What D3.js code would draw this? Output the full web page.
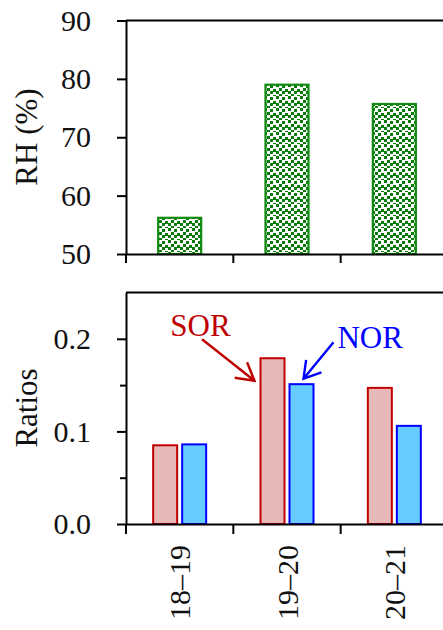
<!DOCTYPE html>
<html><head><meta charset="utf-8">
<script src="https://cdn.jsdelivr.net/npm/d3@7"></script>
<style>
html,body{margin:0;padding:0;background:#fff;overflow:hidden}
text{font-family:"Liberation Serif","Times New Roman",serif}
</style></head>
<body>
<script>
const categories = ["18\u201319", "19\u201320", "20\u201321"];
const rhValues = [56.2, 79.0, 75.7];
const sorValues = [0.085, 0.179, 0.147];
const norValues = [0.086, 0.151, 0.106];
const series = ["SOR", "NOR"];
const rhTicks = [50, 60, 70, 80, 90];
const ratioMajorTicks = [0.0, 0.1, 0.2];
const ratioMinorTicks = [0.05, 0.15];

const W = 443, H = 630;
const svg = d3.select("body").append("svg").attr("width", W).attr("height", H);

// pattern
const defs = svg.append("defs");
const pat = defs.append("pattern").attr("id", "dots").attr("patternUnits", "userSpaceOnUse")
  .attr("width", 12).attr("height", 12);
pat.append("rect").attr("width", 12).attr("height", 12).attr("fill", "#fff");
const sq = [[0,0],[6,1],[3,4],[9,5],[0,7],[6,7],[3,10],[9,11]];
sq.forEach(p => pat.append("rect").attr("x", p[0]).attr("y", p[1]).attr("width", 3).attr("height", 3).attr("fill", "#0a7a0a"));

const left = 126, right = 448;
const x = d3.scaleBand().domain(categories).range([left, right]).padding(0);

// ---- Top panel ----
const yTop = d3.scaleLinear().domain([50, 90]).range([254, 20.5]);
const gTop = svg.append("g");
gTop.selectAll("rect.rh").data(rhValues).enter().append("rect")
  .attr("x", (d, i) => x(categories[i]) + x.bandwidth() / 2 - 21.5)
  .attr("width", 43)
  .attr("y", d => yTop(d))
  .attr("height", d => yTop(50) - yTop(d))
  .attr("fill", "url(#dots)").attr("stroke", "#118a11").attr("stroke-width", 2.2);

// frame
gTop.append("line").attr("x1", left).attr("x2", right).attr("y1", yTop(90)).attr("y2", yTop(90)).attr("stroke", "#000").attr("stroke-width", 2);
gTop.append("line").attr("x1", right).attr("x2", right).attr("y1", yTop(90)).attr("y2", yTop(50)).attr("stroke", "#000").attr("stroke-width", 2);

const yAxisTop = gTop.append("g").attr("transform", `translate(${left},0)`)
  .call(d3.axisLeft(yTop).tickValues(rhTicks).tickSize(9).tickPadding(26).tickSizeOuter(0));
const xAxisTop = gTop.append("g").attr("transform", `translate(0,${yTop(50)})`)
  .call(d3.axisBottom(x).tickValues([]).tickSizeOuter(0));
xAxisTop.selectAll(".bt").data(categories.concat([null])).enter().append("line")
  .attr("x1", (d, i) => left + i * x.step()).attr("x2", (d, i) => left + i * x.step())
  .attr("y1", 0).attr("y2", 9).attr("stroke", "#000").attr("stroke-width", 2);

// ---- Bottom panel ----
const yBot = d3.scaleLinear().domain([0, 0.25]).range([524, 292.5]);
const sub = d3.scaleBand().domain(series).range([-26.5, 26.5]).paddingInner(0.1724).paddingOuter(0);
const fills = { SOR: "#e6b8b7", NOR: "#66ccff" };
const strokes = { SOR: "#c00000", NOR: "#0000ff" };
const gBot = svg.append("g");
categories.forEach((c, i) => {
  const vals = { SOR: sorValues[i], NOR: norValues[i] };
  gBot.selectAll(null).data(series).enter().append("rect")
    .attr("x", s => x(c) + x.bandwidth() / 2 + sub(s))
    .attr("width", sub.bandwidth())
    .attr("y", s => yBot(vals[s]))
    .attr("height", s => yBot(0) - yBot(vals[s]))
    .attr("fill", s => fills[s]).attr("stroke", s => strokes[s]).attr("stroke-width", 2);
});
gBot.append("line").attr("x1", left).attr("x2", right).attr("y1", yBot(0.25)).attr("y2", yBot(0.25)).attr("stroke", "#000").attr("stroke-width", 2);
gBot.append("line").attr("x1", right).attr("x2", right).attr("y1", yBot(0.25)).attr("y2", yBot(0)).attr("stroke", "#000").attr("stroke-width", 2);

const yAxisBot = gBot.append("g").attr("transform", `translate(${left},0)`)
  .call(d3.axisLeft(yBot).tickValues(ratioMajorTicks).tickFormat(d3.format(".1f")).tickSize(9).tickPadding(26).tickSizeOuter(0));
const yAxisBotMinor = gBot.append("g").attr("transform", `translate(${left},0)`)
  .call(d3.axisLeft(yBot).tickValues(ratioMinorTicks).tickFormat("").tickSize(6).tickSizeOuter(0));
yAxisBotMinor.select(".domain").remove();
const xAxisBot = gBot.append("g").attr("transform", `translate(0,${yBot(0)})`)
  .call(d3.axisBottom(x).tickSize(0).tickPadding(0).tickSizeOuter(0));
xAxisBot.selectAll(".bt").data(categories.concat([null])).enter().append("line")
  .attr("x1", (d, i) => left + i * x.step()).attr("x2", (d, i) => left + i * x.step())
  .attr("y1", 0).attr("y2", 10).attr("stroke", "#000").attr("stroke-width", 2);
xAxisBot.selectAll(".tick text")
  .attr("transform", "translate(0,21) rotate(-90)")
  .attr("text-anchor", "end").attr("x", 0).attr("y", 0).attr("dy", "0.35em");

// style axes
svg.selectAll(".domain").attr("stroke", "#000").attr("stroke-width", 2);
svg.selectAll(".tick line").attr("stroke", "#000").attr("stroke-width", 2);
svg.selectAll(".tick text").attr("font-size", 30).attr("fill", "#111")
  .attr("font-family", "'Liberation Serif','Times New Roman',serif");

// axis titles
svg.append("text").attr("transform", `translate(37,137) rotate(-90)`).attr("text-anchor", "middle")
  .attr("font-size", 31).attr("fill", "#111").text("RH (%)");
svg.append("text").attr("transform", `translate(37,408) rotate(-90)`).attr("text-anchor", "middle")
  .attr("font-size", 31).attr("fill", "#111").text("Ratios");

// annotations
function arrow(g, x1, y1, x2, y2, color, len, ang) {
  const a = Math.atan2(y1 - y2, x1 - x2);
  const p1 = [x2 + len * Math.cos(a + ang), y2 + len * Math.sin(a + ang)];
  const p2 = [x2 + len * Math.cos(a - ang), y2 + len * Math.sin(a - ang)];
  g.append("path").attr("d", `M${x1},${y1}L${x2},${y2}M${p1[0]},${p1[1]}L${x2},${y2}L${p2[0]},${p2[1]}`)
    .attr("fill", "none").attr("stroke", color).attr("stroke-width", 2.4).attr("stroke-linejoin", "miter");
}
const c2 = x(categories[1]) + x.bandwidth() / 2;
const sorTip = [c2 + sub("SOR") - 6, yBot(sorValues[1]) + 22.5];
const norTip = [c2 + sub("NOR") + sub.bandwidth() / 2 + 2, yBot(norValues[1]) - 5.5];
arrow(svg, sorTip[0] - 52.5, sorTip[1] - 41.5, sorTip[0], sorTip[1], "#c00000", 20, 0.52);
arrow(svg, norTip[0] + 30, norTip[1] - 36.5, norTip[0], norTip[1], "#0000ff", 19, 0.55);
svg.append("text").attr("x", sorTip[0] - 54).attr("y", sorTip[1] - 45).attr("text-anchor", "middle")
  .attr("font-size", 31).attr("fill", "#c00000").text("SOR");
svg.append("text").attr("x", norTip[0] + 34).attr("y", norTip[1] - 30.5).attr("text-anchor", "start")
  .attr("font-size", 31).attr("fill", "#0000ff").text("NOR");
</script>
</body></html>
